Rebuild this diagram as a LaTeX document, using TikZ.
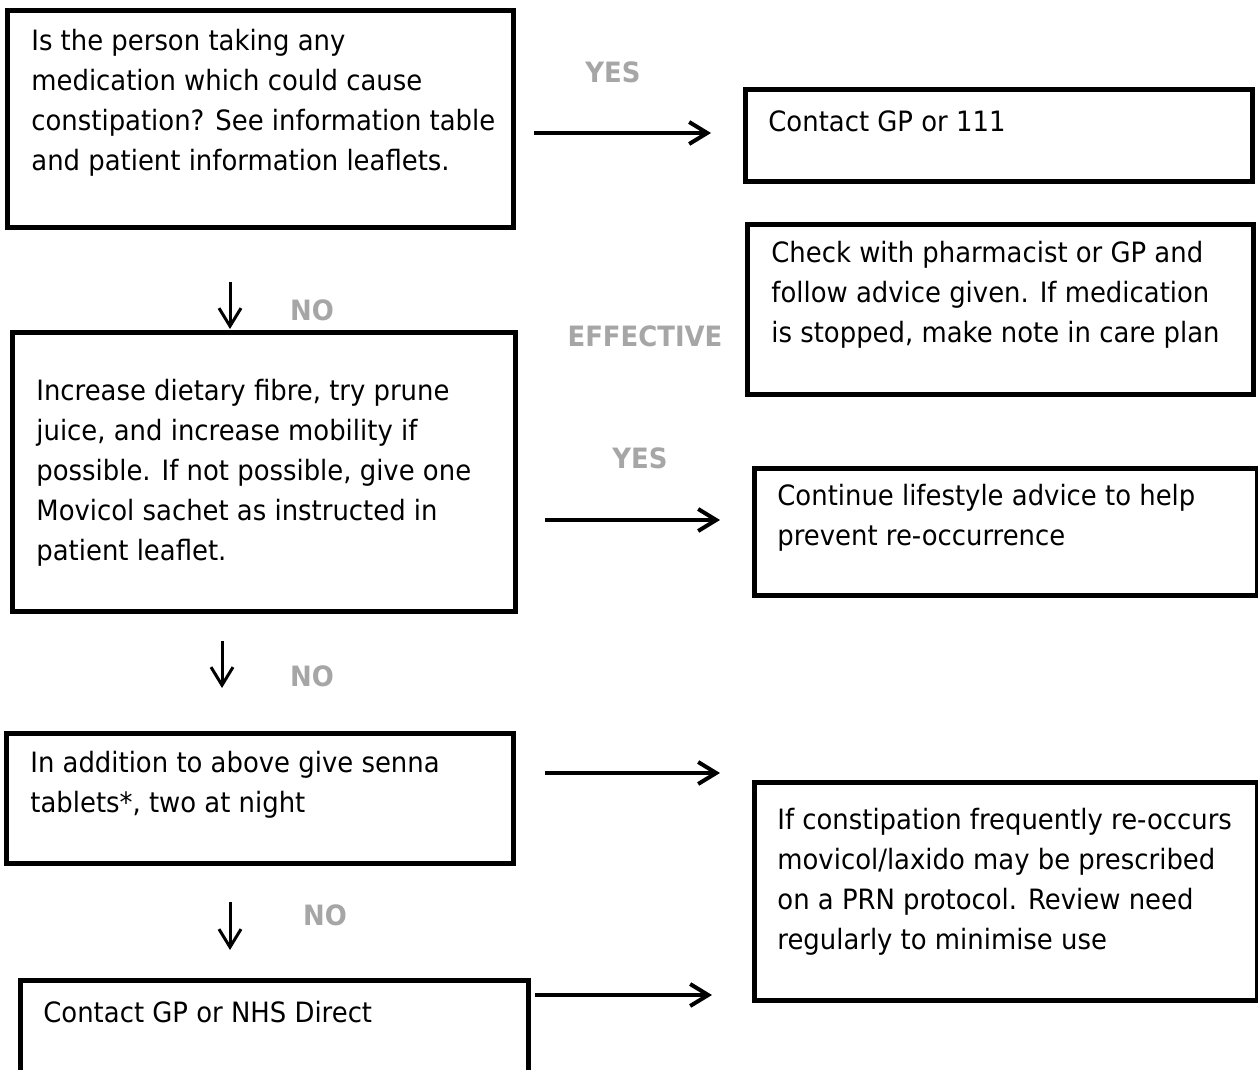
\documentclass[tikz,border=0pt]{standalone}
\usepackage{fontspec}
\setmainfont{DejaVu Sans}[FakeStretch=0.925]
\usetikzlibrary{arrows.meta}
\definecolor{lblgray}{HTML}{A6A6A6}
\tikzset{
  box/.style={draw=black, line width=2.5pt, rectangle, inner sep=0pt},
  txt/.style={anchor=base west, inner sep=0pt, font=\fontsize{14pt}{20pt}\selectfont},
  lbl/.style={anchor=center, inner sep=0pt, text=lblgray, font=\fontsize{14pt}{20pt}\selectfont\bfseries},
  rarr/.style={line width=2pt, -{Straight Barb[length=9pt,width=11pt]}},
  darr/.style={line width=1.5pt, -{Straight Barb[length=9pt,width=11pt]}}
}
\newcommand{\tlines}[1]{\parbox[t]{300pt}{\fontsize{14pt}{20pt}\selectfont #1}}
\begin{document}
\begin{tikzpicture}[x=0.5pt,y=-0.5pt]
\clip (0,0) rectangle (1258,1070);
\fill[white] (0,0) rectangle (1258,1070);
% boxes
\node[box, minimum width=253pt, minimum height=108.5pt] (b1) at (260.5,119) {};
\node[box, minimum width=253.5pt, minimum height=46pt] (r1) at (999,135.5) {};
\node[box, minimum width=253pt, minimum height=85pt] (r2) at (1000.5,309.5) {};
\node[box, minimum width=251.5pt, minimum height=139.5pt] (b2) at (264,472) {};
\node[box, minimum width=251.5pt, minimum height=63.5pt] (r3) at (1006,532) {};
\node[box, minimum width=253.5pt, minimum height=65pt] (b3) at (260,798.5) {};
\node[box, minimum width=251.5pt, minimum height=109pt] (r4) at (1006,891.5) {};
\node[box, minimum width=254pt, minimum height=58.5pt] (b4) at (274.5,1039) {};
% texts
\node[txt] (t1) at (31,51) {\tlines{Is the person taking any\\medication which could cause\\constipation? See information table\\and patient information leaflets.}};
\node[txt] (tr1) at (768,132) {\tlines{Contact GP or 111}};
\node[txt] (tr2) at (771,262) {\tlines{Check with pharmacist or GP and\\follow advice given. If medication\\is stopped, make note in care plan}};
\node[txt] (t2) at (36,400) {\tlines{Increase dietary fibre, try prune\\juice, and increase mobility if\\possible. If not possible, give one\\Movicol sachet as instructed in\\patient leaflet.}};
\node[txt] (tr3) at (777,505) {\tlines{Continue lifestyle advice to help\\prevent re-occurrence}};
\node[txt] (t3) at (30,772) {\tlines{In addition to above give senna\\tablets*, two at night}};
\node[txt] (tr4) at (777,829) {\tlines{If constipation frequently re-occurs\\movicol/laxido may be prescribed\\on a PRN protocol. Review need\\regularly to minimise use}};
\node[txt] (t4) at (43,1022) {\tlines{Contact GP or NHS Direct}};
% labels
\node[lbl] (l1) at (613,72) {YES};
\node[lbl] (l2) at (312,310) {NO};
\node[lbl] (l3) at (645,336) {EFFECTIVE};
\node[lbl] (l4) at (640,458) {YES};
\node[lbl] (l5) at (312,676) {NO};
\node[lbl] (l6) at (325,915) {NO};
% arrow end coordinates
\coordinate (a1s) at (534,133); \coordinate (a1e) at (711,133);
\coordinate (a2s) at (545,520); \coordinate (a2e) at (720,520);
\coordinate (a3s) at (545,773); \coordinate (a3e) at (720,773);
\coordinate (a4s) at (535,995); \coordinate (a4e) at (712,995);
\coordinate (d1s) at (230,282); \coordinate (d1e) at (230,329);
\coordinate (d2s) at (222,641); \coordinate (d2e) at (222,688);
\coordinate (d3s) at (230,902); \coordinate (d3e) at (230,950);
\draw[rarr] (a1s) -- (a1e);
\draw[rarr] (a2s) -- (a2e);
\draw[rarr] (a3s) -- (a3e);
\draw[rarr] (a4s) -- (a4e);
\draw[darr] (d1s) -- (d1e);
\draw[darr] (d2s) -- (d2e);
\draw[darr] (d3s) -- (d3e);
\end{tikzpicture}
\end{document}
